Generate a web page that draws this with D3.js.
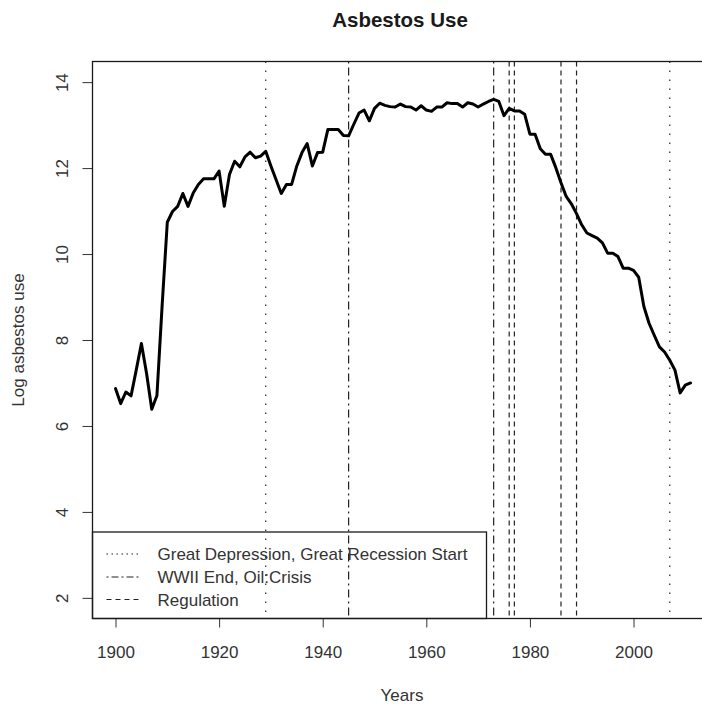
<!DOCTYPE html>
<html>
<head>
<meta charset="utf-8">
<script src="https://cdn.jsdelivr.net/npm/d3@7"></script>
<style>
  html, body { margin: 0; padding: 0; background: #fff; }
  svg { display: block; font-family: "Liberation Sans", Arial, Helvetica, sans-serif; }
</style>
</head>
<body>
<div id="chart"></div>
<script>
// ---------------- data ----------------
const years = [
  1900,1901,1902,1903,1904,1905,1906,1907,1908,1909,
  1910,1911,1912,1913,1914,1915,1916,1917,1918,1919,
  1920,1921,1922,1923,1924,1925,1926,1927,1928,1929,
  1930,1931,1932,1933,1934,1935,1936,1937,1938,1939,
  1940,1941,1942,1943,1944,1945,1946,1947,1948,1949,
  1950,1951,1952,1953,1954,1955,1956,1957,1958,1959,
  1960,1961,1962,1963,1964,1965,1966,1967,1968,1969,
  1970,1971,1972,1973,1974,1975,1976,1977,1978,1979,
  1980,1981,1982,1983,1984,1985,1986,1987,1988,1989,
  1990,1991,1992,1993,1994,1995,1996,1997,1998,1999,
  2000,2001,2002,2003,2004,2005,2006,2007,2008,2009,
  2010,2011
];
const logUse = [
  6.87,6.52,6.79,6.70,7.30,7.92,7.22,6.39,6.71,8.80,
  10.74,10.99,11.11,11.41,11.11,11.42,11.62,11.75,11.75,11.75,
  11.93,11.11,11.85,12.16,12.03,12.26,12.37,12.24,12.28,12.39,
  12.05,11.73,11.41,11.62,11.62,12.05,12.36,12.57,12.05,12.36,
  12.37,12.90,12.90,12.90,12.76,12.75,13.02,13.28,13.35,13.10,
  13.39,13.51,13.46,13.43,13.42,13.49,13.43,13.42,13.35,13.45,
  13.35,13.32,13.42,13.42,13.52,13.50,13.50,13.42,13.52,13.49,
  13.42,13.49,13.55,13.60,13.55,13.22,13.39,13.33,13.33,13.25,
  12.79,12.79,12.45,12.32,12.32,12.01,11.66,11.34,11.17,10.94,
  10.68,10.49,10.43,10.37,10.26,10.02,10.02,9.94,9.67,9.67,
  9.62,9.46,8.78,8.39,8.11,7.84,7.72,7.53,7.30,6.77,
  6.95,7.00
];
const dottedYears  = [1929, 2007];               // Great Depression, Great Recession Start
const dotdashYears = [1945, 1973];               // WWII End, Oil Crisis
const dashedYears  = [1976, 1977, 1986, 1989];   // Regulation
const xTicks = [1900, 1920, 1940, 1960, 1980, 2000];
const yTicks = [2, 4, 6, 8, 10, 12, 14];
const legendLabels = ["Great Depression, Great Recession Start", "WWII End, Oil:Crisis", "Regulation"];
const titleText = "Asbestos Use";
const xLabel = "Years";
const yLabel = "Log asbestos use";

// ---------------- layout ----------------
const W = 702, H = 708;
const box = { left: 92.5, right: 713.5, top: 61.5, bottom: 618.5 };
const ink = "#1a1a1a";

const x = d3.scaleLinear().domain([1895.56, 2015.44]).range([box.left, box.right]);
const y = d3.scaleLinear().domain([1.52, 14.48]).range([box.bottom, box.top]);

const svg = d3.select("#chart").append("svg")
  .attr("width", W).attr("height", H)
  .attr("viewBox", `0 0 ${W} ${H}`);

// title
svg.append("text")
  .attr("x", 400).attr("y", 26.5)
  .attr("text-anchor", "middle")
  .attr("font-size", 20.5).attr("font-weight", "bold")
  .attr("fill", ink)
  .text(titleText);

// axis titles
svg.append("text")
  .attr("x", 402).attr("y", 701)
  .attr("text-anchor", "middle")
  .attr("font-size", 17).attr("fill", "#333")
  .text(xLabel);
svg.append("text")
  .attr("transform", `translate(24,${(box.top + box.bottom) / 2}) rotate(-90)`)
  .attr("text-anchor", "middle")
  .attr("font-size", 17).attr("fill", "#333")
  .text(yLabel);

// x axis
const xAxis = d3.axisBottom(x).tickValues(xTicks).tickSize(9).tickPadding(18)
  .tickFormat(d3.format("d"));
const gx = svg.append("g").attr("transform", `translate(0,${box.bottom})`).call(xAxis);
gx.select(".domain").remove();
gx.selectAll("line").attr("stroke", "#333").attr("stroke-width", 1);
gx.selectAll("text").attr("font-size", 17).attr("fill", "#333")
  .attr("font-family", "Liberation Sans, Arial, sans-serif");

// y axis (rotated labels like R's default)
const yAxis = d3.axisLeft(y).tickValues(yTicks).tickSize(10).tickPadding(0)
  .tickFormat(d3.format("d"));
const gy = svg.append("g").attr("transform", `translate(${box.left},0)`).call(yAxis);
gy.select(".domain").remove();
gy.selectAll("line").attr("stroke", "#333").attr("stroke-width", 1);
gy.selectAll("text")
  .attr("font-size", 17).attr("fill", "#333")
  .attr("font-family", "Liberation Sans, Arial, sans-serif")
  .attr("x", null).attr("dy", null)
  .attr("text-anchor", "middle")
  .attr("transform", "translate(-25,0) rotate(-90)");

// event lines
const evGroup = svg.append("g");
function vlines(data, dash) {
  evGroup.selectAll(null).data(data).enter().append("line")
    .attr("x1", d => x(d)).attr("x2", d => x(d))
    .attr("y1", box.top).attr("y2", box.bottom)
    .attr("stroke", "#222").attr("stroke-width", 1.2)
    .attr("stroke-dasharray", dash);
}
vlines(dottedYears, "1.5,7.5");
vlines(dotdashYears, "2,4,8,4");
vlines(dashedYears, "5,4");

// legend
const legX0 = box.left, legX1 = 486.5, legY0 = 532, legY1 = box.bottom;
svg.append("rect")
  .attr("x", legX0).attr("y", legY0)
  .attr("width", legX1 - legX0).attr("height", legY1 - legY0)
  .attr("fill", "none").attr("stroke", ink).attr("stroke-width", 1.3);
const legDash = ["1.5,3.5", "2,3,7,3", "5,4"];
const legRows = [554, 577, 599.5];
legendLabels.forEach((lab, i) => {
  svg.append("line")
    .attr("x1", 106.5).attr("x2", 139).attr("y1", legRows[i]).attr("y2", legRows[i])
    .attr("stroke", "#222").attr("stroke-width", 1.2)
    .attr("stroke-dasharray", legDash[i]);
  svg.append("text")
    .attr("x", 157.5).attr("y", legRows[i] + 6)
    .attr("font-size", 17).attr("fill", "#333")
    .text(lab);
});

// main line
const line = d3.line().x((d, i) => x(years[i])).y(d => y(d));
svg.append("path")
  .datum(logUse)
  .attr("d", line)
  .attr("fill", "none")
  .attr("stroke", "#000")
  .attr("stroke-width", 3)
  .attr("stroke-linejoin", "round")
  .attr("stroke-linecap", "round");

// plot box
svg.append("rect")
  .attr("x", box.left).attr("y", box.top)
  .attr("width", box.right - box.left).attr("height", box.bottom - box.top)
  .attr("fill", "none").attr("stroke", ink).attr("stroke-width", 1.3);
</script>
</body>
</html>
